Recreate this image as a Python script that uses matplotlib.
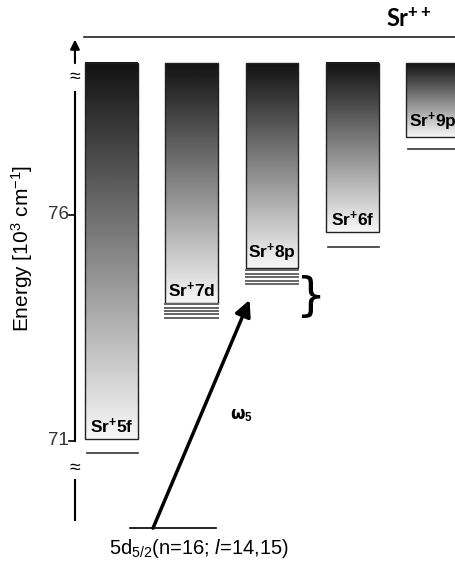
import matplotlib
matplotlib.use('Agg')
import matplotlib.pyplot as plt
import numpy as np
from matplotlib.patches import Rectangle

plt.rcParams['font.family'] = ['Liberation Sans', 'DejaVu Sans']
plt.rcParams['mathtext.fontset'] = 'custom'
plt.rcParams['mathtext.rm'] = 'Liberation Sans'
plt.rcParams['mathtext.it'] = 'Liberation Sans:italic'
plt.rcParams['mathtext.bf'] = 'Liberation Sans:bold'

# Rydberg series of Sr+ (energies in 10^3 cm^-1)
series = ['5f', '7d', '8p', '6f', '9p']
series_limit = [71.04, 74.05, 74.83, 75.62, 77.73]   # bottom of each shaded band
lowest_level = [70.73, None, None, 75.29, 77.46]
sub_levels_7d = [74.02, 73.95, 73.88, 73.80, 73.73]
sub_levels_8p = [74.78, 74.70, 74.62, 74.55, 74.47]
band_top = 79.36
sr2_limit = 79.94
ground = 69.07          # 5d5/2 (n=16) state, drawn below the axis break
ticks = [71, 76]
laser_target = 74.12

x = np.arange(len(series))
width = 0.66

fig = plt.figure(figsize=(4.55, 5.63), dpi=100)
ax = fig.add_axes([0, 0, 1, 1])
ax.axis('off')

grad = np.linspace(0.07, 0.97, 256).reshape(-1, 1)
for i, (name, lo) in enumerate(zip(series, series_limit)):
    x0 = x[i] - width / 2
    ax.imshow(grad, cmap='gray', vmin=0, vmax=1, origin='upper',
              extent=(x0, x0 + width, lo, band_top), interpolation='bilinear')
    ax.add_patch(Rectangle((x0, lo), width, band_top - lo, fill=False,
                           edgecolor='#222222', lw=1.0))
    ax.annotate('Sr$^{\\mathbf{+}}$' + name, xy=(x[i], lo), xytext=(0, 2.5),
                textcoords='offset points', ha='center', va='bottom',
                fontsize=12.5, fontweight='bold')
    if lowest_level[i] is not None:
        ax.plot([x0 + 0.03, x0 + width], [lowest_level[i]] * 2,
                color='#333333', lw=1.2)

for i, levels in [(1, sub_levels_7d), (2, sub_levels_8p)]:
    for e in levels:
        ax.plot([x[i] - width / 2, x[i] + width / 2], [e, e],
                color='#666666', lw=1.4)

# Sr++ ionisation limit
ax.plot([-0.343, 4.3], [sr2_limit, sr2_limit], color='#222222', lw=1.2)
ax.text(3.70, 80.33, 'Sr$^{\\mathbf{++}}$', fontsize=17, fontweight='bold',
        ha='center', va='center', family=['Lato', 'DejaVu Sans'])

# broken energy axis
xa = -0.455
ax.annotate('', xy=(xa, 79.88), xytext=(xa, band_top),
            arrowprops=dict(arrowstyle='-|>', color='black', lw=1.5,
                            mutation_scale=14, shrinkA=0, shrinkB=0))
ax.text(xa, 79.05, '≈', fontsize=14, ha='center', va='center')
ax.plot([xa, xa], [78.72, 71.0], color='black', lw=1.5)
for t in ticks:
    ax.plot([xa - 0.07, xa], [t, t], color='black', lw=1.2)
    ax.text(xa - 0.08, t, str(t), ha='right', va='center', fontsize=13.5,
            color='#333333')
ax.text(xa, 70.40, '≈', fontsize=14, ha='center', va='center')
ax.plot([xa, xa], [70.14, 69.25], color='black', lw=1.5)
ax.text(-1.11, 75.27, 'Energy [10$^3$ cm$^{-1}$]', rotation=90,
        ha='center', va='center', fontsize=15)

# initial state and excitation
ax.plot([0.23, 1.30], [ground, ground], color='black', lw=1.2)
ax.text(1.09, 68.62, '5d$_{5/2}$(n=16; $l$=14,15)', ha='center',
        va='center', fontsize=14.5)
ax.annotate('', xy=(1.72, laser_target), xytext=(0.517, ground),
            arrowprops=dict(arrowstyle='-|>', color='black', lw=2.5,
                            mutation_scale=24, shrinkA=0, shrinkB=0))
ax.text(1.62, 71.58, 'ω$_\\mathbf{5}$', ha='center', va='center',
        fontsize=12, fontweight='bold', family=['DejaVu Sans'])
ax.text(2.47, 74.18, '}', ha='center', va='center', fontsize=34,
        family=['DejaVu Sans'])

ax.set_xlim(-1.389, 4.280)
ax.set_ylim(68.30, 80.757)
ax.set_aspect('auto')

fig.savefig('out.png', dpi=100)
